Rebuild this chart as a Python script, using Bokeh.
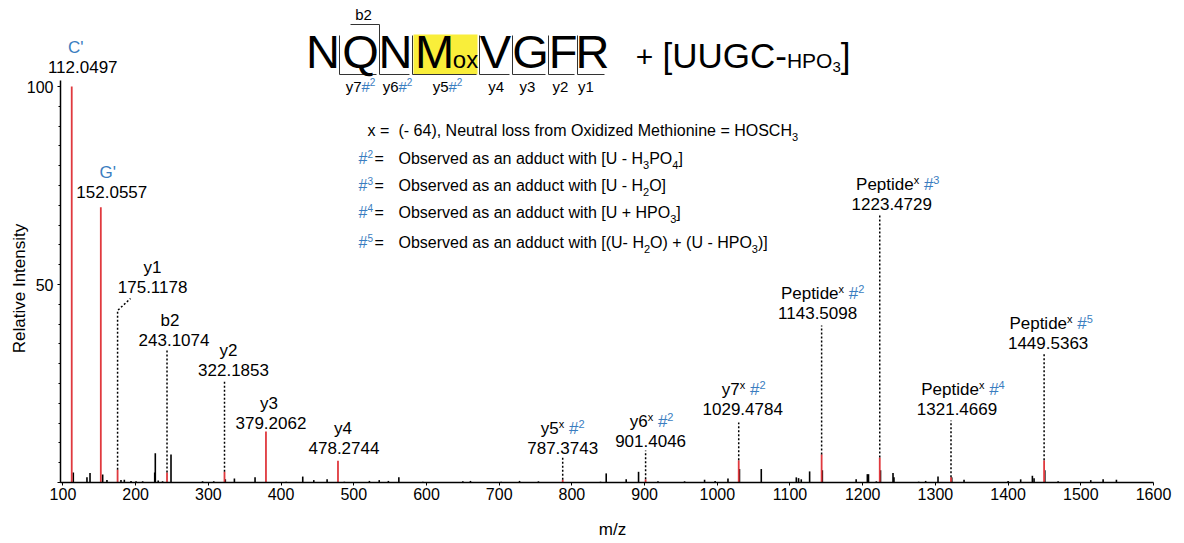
import math
from bokeh.plotting import figure
from bokeh.models import ColumnDataSource, FixedTicker, Range1d, Label
from bokeh.embed import file_html
from bokeh.resources import INLINE

# ---------------- data ----------------
annot_mz = [112.0497, 152.0557, 175.1178, 243.1074, 322.1853, 379.2062, 478.2744,
            787.3743, 901.4046, 1029.4784, 1143.5098, 1223.4729, 1321.4669, 1449.5363]
annot_int = [100, 69.5, 3.2, 2.5, 2.7, 12.9, 5.5, 0.7, 0.8, 5.6, 7.1, 6.3, 1.3, 5.6]
annot_name = ["C'", "G'", "y1", "b2", "y2", "y3", "y4", "y5", "y6", "y7",
              "Peptide", "Peptide", "Peptide", "Peptide"]
annot_sup = ["", "", "", "", "", "", "", "x", "x", "x", "x", "x", "x", "x"]
annot_adduct = ["", "", "", "", "", "", "", "2", "2", "2", "2", "3", "4", "5"]

other_mz = [114.2, 133.0, 137.2, 154.6, 160.5, 179.8, 184.4, 193.6, 200.5, 209.6,
            226.2, 227.0, 231.0, 237.0, 248.6, 292.0, 307.4, 323.3, 335.8, 364.2,
            407.0, 429.8, 445.0, 463.3, 487.0, 521.5, 535.0, 547.6, 562.0, 595.0,
            650.0, 660.5, 702.7, 728.0, 754.0, 839.4, 847.2, 874.7, 891.7, 918.4,
            955.0, 982.5, 997.0, 1014.7, 1030.5, 1060.5, 1108.7, 1111.8, 1115.5, 1127.0,
            1144.5, 1191.0, 1206.4, 1208.0, 1218.8, 1224.5, 1241.7, 1243.0, 1277.0, 1286.6,
            1303.6, 1322.5, 1339.4, 1400.0, 1417.3, 1433.4, 1435.7, 1450.5, 1468.8, 1513.7,
            1530.7, 1549.0]
other_int = [2.5, 1.3, 2.4, 2.0, 0.6, 0.6, 0.7, 0.4, 0.3, 0.3,
             2.5, 7.4, 0.5, 0.3, 7.1, 0.3, 0.3, 0.8, 1.0, 1.3,
             0.2, 1.5, 0.6, 0.8, 0.2, 0.4, 0.6, 0.4, 1.3, 0.2,
             0.3, 0.4, 0.2, 0.4, 0.3, 0.2, 2.3, 0.8, 2.7, 0.3,
             0.3, 0.7, 0.4, 1.0, 3.4, 3.4, 1.3, 1.1, 0.8, 2.8,
             3.1, 0.8, 2.1, 2.1, 0.3, 3.1, 2.4, 1.3, 0.2, 0.4,
             1.5, 1.3, 0.7, 0.4, 0.8, 1.7, 1.1, 3.1, 0.3, 0.6,
             0.8, 0.7]

x_ticks = list(range(100, 1601, 100))
y_ticks = [0, 50, 100]
y_minor = list(range(0, 101, 5))

sequence = ["N", "Q", "N", "M", "V", "G", "F", "R"]
y_ion_labels = ["y7", "y6", "y5", "y4", "y3", "y2", "y1"]
y_ion_adduct = ["2", "2", "2", "", "", "", ""]

legend_keys = ["x", "2", "3", "4", "5"]
legend_texts = [
    [("(- 64), Neutral loss from Oxidized Methionine = HOSCH", 0), ("3", -1)],
    [("Observed as an adduct with [U - H", 0), ("3", -1), ("PO", 0), ("4", -1), ("]", 0)],
    [("Observed as an adduct with [U - H", 0), ("2", -1), ("O]", 0)],
    [("Observed as an adduct with [U + HPO", 0), ("3", -1), ("]", 0)],
    [("Observed as an adduct with [(U- H", 0), ("2", -1), ("O) + (U - HPO", 0), ("3", -1), (")]", 0)],
]

# ---------------- layout (annotation placement) ----------------
W, H = 1184, 543
AXL, AXR, AXB = 60, 1153, 482          # pixel positions of axis start / end / baseline
X0, X1 = 96.6, 1600.0                  # x-axis extent
XS = (AXR - AXL) / (X1 - X0)           # px per m/z unit
YS = 3.96                              # px per % unit

num_base_px = [72, 197, 292, 345, 375, 428, 453, 453, 446, 414, 318, 209, 414, 348]
num_dx = [11, 11, 35, 7, 9, 5, 6, 0, 5, 4, -4, 12, 6, 4]
name_dx = [4, 7, 35, 3, 4, 3, 5, 0, 6, 5, 1, 18, 12, 7]
leader_top_px = [None, None, 310, 349, 380, None, None, 457, 450, 422, 325, 213, 420, 353]

BLUE = "#3a7dc0"
RED = "#e0393e"
SANS = "Liberation Sans"

AW = {' ': 278, '#': 556, "'": 191, '(': 333, ')': 333, '+': 584, ',': 278, '-': 333,
      '.': 278, '/': 278, '=': 584, '[': 278, ']': 278,
      'A': 667, 'B': 667, 'C': 722, 'D': 722, 'E': 667, 'F': 611, 'G': 778, 'H': 722,
      'I': 278, 'M': 833, 'N': 722, 'O': 778, 'P': 667, 'Q': 778, 'R': 722, 'S': 667,
      'U': 722, 'V': 667,
      'a': 556, 'b': 556, 'c': 500, 'd': 556, 'e': 556, 'f': 278, 'h': 556, 'i': 222,
      'l': 222, 'm': 833, 'n': 556, 'o': 556, 'p': 556, 'r': 333, 's': 500, 't': 278,
      'u': 556, 'v': 500, 'w': 722, 'x': 500, 'y': 500, 'z': 500}


def tw(s, size):
    return sum(AW.get(c, 556) for c in s) * size / 1000.0


def X(px):
    return X0 + (px - AXL) / XS


def Y(py):
    return (AXB - py) / YS


def P(mz):
    return AXL + (mz - X0) * XS


LABELS = []


def put(px, py, s, size, color="black", align="left", font=SANS, angle=0.0):
    # py is the intended text baseline in px; labels are placed by their middle
    LABELS.append(Label(x=X(px), y=Y(py - 0.35 * size), text=s,
                        text_font=font, text_font_size="%gpx" % size,
                        text_color=color, text_align=align, text_baseline="middle",
                        angle=angle))


def rich(px, py, pieces, align="center", font=SANS):
    total = sum(tw(t, s) for t, s, c, r in pieces)
    x = px - total / 2 if align == "center" else px
    for t, s, c, r in pieces:
        put(x, py - r, t, s, c, "left", font)
        x += tw(t, s)


# the plotting frame covers the whole canvas; the axes are pinned at fixed locations
p = figure(width=W, height=H, output_backend="svg", toolbar_location=None,
           x_range=Range1d(X(0), X(W)), y_range=Range1d(Y(H), Y(0)),
           min_border=0, min_border_left=0, min_border_right=0,
           min_border_top=0, min_border_bottom=0)
p.title.visible = False
p.grid.visible = False
p.outline_line_color = None
p.background_fill_color = "white"
p.border_fill_color = "white"

# axes
p.xaxis.ticker = FixedTicker(ticks=x_ticks)
p.xaxis.bounds = (X0, X1)
p.xaxis.fixed_location = 0
p.yaxis.ticker = FixedTicker(ticks=y_ticks, minor_ticks=y_minor)
p.yaxis.bounds = (0, 101.5)
p.yaxis.fixed_location = X0
p.yaxis.major_label_overrides = {0: ""}
for ax in (p.xaxis[0], p.yaxis[0]):
    ax.axis_line_width = 1.5
    ax.axis_line_color = "black"
    ax.major_tick_line_color = "black"
    ax.minor_tick_line_color = "black"
    ax.major_tick_in = 0
    ax.major_tick_out = 3
    ax.minor_tick_in = 0
    ax.minor_tick_out = 2
    ax.major_label_text_font = SANS
    ax.major_label_text_font_size = "16px"
    ax.major_label_text_color = "black"
p.xaxis.minor_tick_line_color = None
p.xaxis.major_label_standoff = 2
p.yaxis.major_label_standoff = 4

# axis titles
put(19, 288 + 0.35 * 17, "Relative Intensity", 17, "black", "center", SANS, math.pi / 2)
put(612, 535, "m/z", 17, "black", "center")

# highlight box behind M(ox)
p.quad(left=X(413), right=X(477), bottom=Y(74), top=Y(34), fill_color="#f9ee3a", line_color=None)

# peaks
p.segment(x0="mz", y0=0, x1="mz", y1="h", line_color="black", line_width=1.6,
          source=ColumnDataSource(dict(mz=other_mz, h=other_int)))
p.segment(x0="mz", y0=0, x1="mz", y1="h", line_color=RED, line_width=1.8,
          source=ColumnDataSource(dict(mz=annot_mz, h=annot_int)))

# leader lines (dotted)
lx, ly = [], []
for i, mz in enumerate(annot_mz):
    top = leader_top_px[i]
    if top is None:
        continue
    if annot_name[i] == "y1":
        lx.append([mz, mz, X(130)]); ly.append([annot_int[i], Y(top), Y(298)])
    else:
        lx.append([mz, mz]); ly.append([annot_int[i], Y(top)])
p.multi_line(xs=lx, ys=ly, line_color="black", line_width=1.5, line_dash="2 2")

# peak labels
for i, mz in enumerate(annot_mz):
    base = num_base_px[i]
    put(P(mz) + num_dx[i], base, "%.4f" % mz, 17, "black", "center")
    col = BLUE if annot_name[i] in ("C'", "G'") else "black"
    pieces = [(annot_name[i], 17, col, 0)]
    if annot_sup[i]:
        pieces.append((annot_sup[i], 11, "black", 7))
    if annot_adduct[i]:
        pieces += [(" ", 17, "black", 0), ("#", 17, BLUE, 0), (annot_adduct[i], 11, BLUE, 7)]
    rich(P(mz) + name_dx[i], base - 19, pieces)

# legend block
leg_base = [136, 164, 191, 218, 248]
for k, key in enumerate(legend_keys):
    b = leg_base[k]
    if key == "x":
        put(367, b, "x =", 16)
    else:
        rich(358, b, [("#", 16, BLUE, 0), (key, 10, BLUE, 7)], align="left")
        put(374, b, "=", 16)
    rich(398, b, [(t, 16 if r == 0 else 11, "black", 0 if r == 0 else -4)
                  for t, r in legend_texts[k]], align="left")

# peptide sequence header
seq_cx = [322.5, 360, 395, 434, 495, 530, 562.5, 592]
for c, cx in zip(sequence, seq_cx):
    put(cx, 67, c, 47, "black", "center")
put(465, 67, "ox", 24, "black", "center")
put(644, 67, "+", 30, "black", "center")
rich(662, 67, [("[UUGC-", 35, "black", 0), ("HPO", 21, "black", 0),
               ("3", 15, "black", -5), ("]", 35, "black", 0)], align="left")

cuts = [339, 379, 412, 479, 512, 548, 577]
ends = [376, 409, 476, 509, 545, 574, 604]
bx, by = [], []
for cx, ex in zip(cuts, ends):
    topy = 24 if cx == 379 else 35
    bx.append([X(cx), X(cx), X(ex)]); by.append([Y(topy), Y(74), Y(74)])
bx.append([X(350), X(379)]); by.append([Y(24), Y(24)])
p.multi_line(xs=bx, ys=by, line_color="#333333", line_width=1)
put(363, 19, "b2", 15, "black", "center")

yl_cx = [360, 397, 447, 495.6, 527, 560, 585.5]
for lab, add, cx in zip(y_ion_labels, y_ion_adduct, yl_cx):
    pcs = [(lab, 15, "black", 0)]
    if add:
        pcs += [("#", 15, BLUE, 0), (add, 10, BLUE, 6)]
    rich(cx, 91, pcs)

for lab in LABELS:
    p.add_layout(lab)

open("out.html", "w").write(file_html(p, INLINE))
